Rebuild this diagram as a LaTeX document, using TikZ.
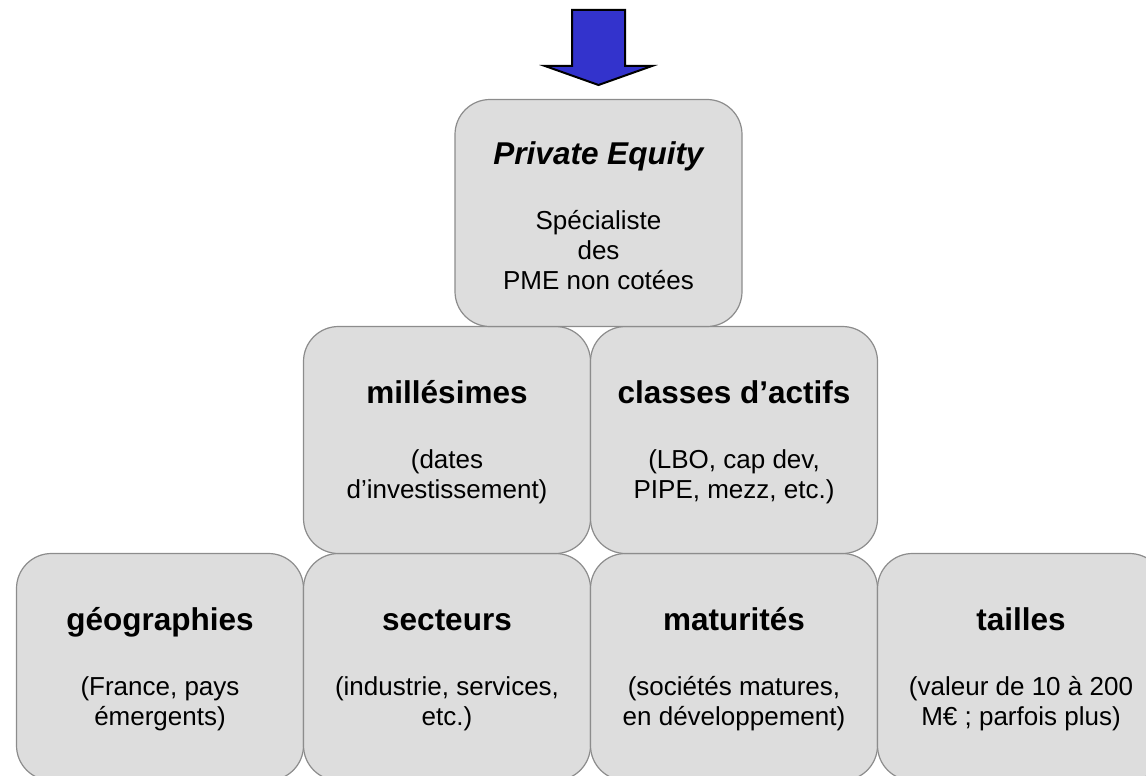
\documentclass[tikz,border=0pt]{standalone}
\usepackage{fontspec}
\setmainfont{Liberation Sans}
\usetikzlibrary{positioning}
\usepackage{xcolor}

\definecolor{boxgray}{HTML}{DDDDDD}
\definecolor{boxline}{HTML}{8C8C8C}
\definecolor{arrowblue}{HTML}{3333CC}

\tikzset{
  critere/.style={draw=boxline, fill=boxgray, line width=1.2pt, rounded corners=35pt,
    minimum width=287pt, minimum height=227pt, outer sep=0pt, inner sep=0pt,
    align=center, font=\fontsize{26}{30}\selectfont},
  fleche/.style={draw=black, fill=arrowblue, line width=2pt, line join=miter}
}
\newcommand{\titre}[1]{{\fontsize{31.5}{36}\selectfont\bfseries\vphantom{Égp}#1}\\[35pt]}

\begin{document}
\begin{tikzpicture}[x=1pt, y=-1pt]

        \useasboundingbox (0,0) rectangle (1146,776);

        % bottom row
        \node[critere] (geo) at (160,667) {\titre{géographies}(France, pays\\émergents)};
        \node[critere, right=0pt of geo] (secteurs) {\titre{secteurs}(industrie, services,\\etc.)};
        \node[critere, right=0pt of secteurs] (maturites) {\titre{maturités}(sociétés matures,\\en développement)};
        \node[critere, right=0pt of maturites] (tailles) {\titre{tailles}(valeur de 10 à 200\\M€ ; parfois plus)};

        % middle row
        \node[critere, above=0pt of secteurs] (millesimes) {\titre{millésimes}(dates\\d’investissement)};
        \node[critere, above=0pt of maturites] (classes) {\titre{classes d’actifs}(LBO, cap dev,\\PIPE, mezz, etc.)};

        % top
        \node[critere] (pe) at (598.5,213) {\titre{\itshape Private Equity}Spécialiste\\des\\PME non cotées};

        \draw[fleche] (572,10) -- (625,10) -- (625,66) -- (652,66) -- (598.5,85)
            -- (545,66) -- (572,66) -- cycle;

    \end{tikzpicture}
\end{document}
